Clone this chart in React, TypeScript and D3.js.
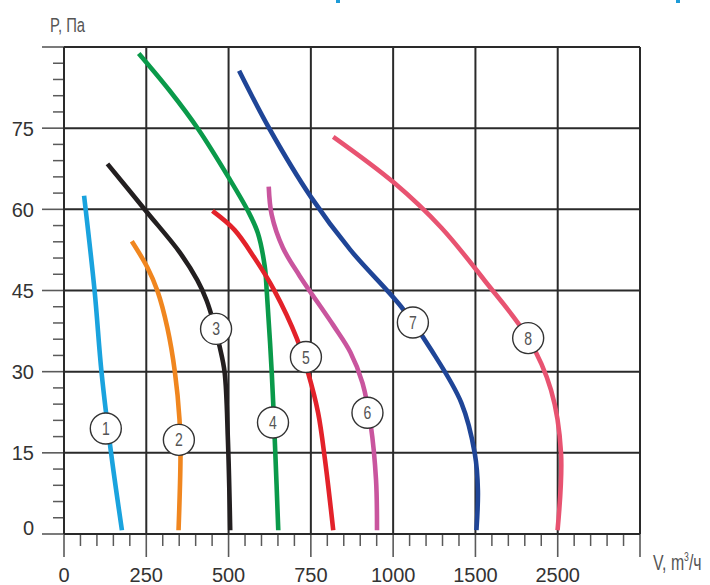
import React from "react";
import * as d3 from "d3";

// Fan performance curves: static pressure P (Pa) against airflow V (m³/h)
const xTickValues = [0, 250, 500, 750, 1000, 1500, 2500, 3500];
const xTickLabels = ["0", "250", "500", "750", "1000", "1500", "2500"];
const yTickValues = [0, 15, 30, 45, 60, 75, 90];
const yTickLabels = ["0", "15", "30", "45", "60", "75"];

const curveNames = ["1", "2", "3", "4", "5", "6", "7", "8"];
const curveColors = ["#1aa3de", "#f0861f", "#231f20", "#0a9a4a", "#e3222a", "#c9559e", "#1f4597", "#e85371"];

const curve1: [number, number][] = [[61, 62.5], [93, 44.9], [114, 29.9], [143, 15], [176, 0.7]];
const curve2: [number, number][] = [[206, 54.1], [253, 49.3], [284, 44.9], [314, 38.1], [337, 29.9], [351, 21.1], [354, 15], [348, 0.7]];
const curve3: [number, number][] = [[132, 68.4], [249, 59.7], [351, 52.1], [405, 46.9], [433, 43.2], [454, 39.2], [473, 34.6], [488, 29.9], [498, 17.4], [505, 0.7]];
const curve4: [number, number][] = [[227, 88.8], [320, 82], [408, 74.8], [500, 65.9], [559, 59.7], [589, 55.6], [610, 49.4], [616, 44.9], [631, 30], [642, 15], [651, 0.7]];
const curve5: [number, number][] = [[451, 59.7], [518, 56.2], [579, 51], [640, 44.9], [707, 36.2], [741, 29.9], [772, 22.4], [793, 13.7], [818, 0.7]];
const curve6: [number, number][] = [[622, 64.2], [631, 59], [665, 52.9], [716, 47.7], [818, 38.6], [870, 33.6], [907, 27.9], [932, 20.1], [948, 10], [951, 0.7]];
const curve7: [number, number][] = [[532, 85.6], [625, 74.8], [750, 62.3], [870, 52.5], [1049, 42], [1232, 34], [1415, 24.2], [1496, 14.9], [1530, 8.1], [1512, 0.7]];
const curve8: [number, number][] = [[818, 73.4], [1006, 64.9], [1293, 56.6], [1609, 46.9], [2141, 36.2], [2419, 26.6], [2540, 15], [2498, 0.7]];
const curves = [curve1, curve2, curve3, curve4, curve5, curve6, curve7, curve8];

// Where each numbered marker sits on its curve (V, P)
const markerV = [127, 349, 462, 635, 735, 922, 1120, 2141];
const markerP = [19.5, 17.4, 37.9, 20.6, 32.7, 22.4, 39.1, 36.2];

const W = 710;
const H = 585;
const left = 64;
const right = 640;
const top = 47;
const bottom = 534;

export default function App() {
  const step = (right - left) / (xTickValues.length - 1);
  const x = d3
    .scaleLinear()
    .domain(xTickValues)
    .range(xTickValues.map((_, i) => left + i * step));
  const y = d3.scaleLinear().domain([0, 90]).range([bottom, top]);

  const line = d3
    .line<[number, number]>()
    .x((d) => x(d[0]))
    .y((d) => y(d[1]))
    .curve(d3.curveCatmullRom.alpha(0.5));

  const xMinor: number[] = [];
  for (let i = 0; i < xTickValues.length - 1; i++) {
    const a = xTickValues[i];
    const b = xTickValues[i + 1];
    for (let k = 1; k < 5; k++) xMinor.push(a + ((b - a) * k) / 5);
  }
  const yMinor = d3.range(0, 91, 3).filter((v) => v % 15 !== 0);

  const grid = "#2a2a2a";
  const tickColor = "#5a5a5a";
  const numFont = "'Liberation Sans', Arial, sans-serif";

  return (
    <svg
      width={W}
      height={H}
      viewBox={`0 0 ${W} ${H}`}
      style={{ position: "absolute", left: 0, top: 0, background: "#fff" }}
    >
      {/* heading descenders at the top edge */}
      <rect x={336} y={0} width={4} height={3} fill="#1e9bd7" />
      <rect x={676} y={0} width={4} height={3} fill="#1e9bd7" />

      {/* minor ticks */}
      {xMinor.map((v, i) => (
        <line key={"xm" + i} x1={x(v)} x2={x(v)} y1={bottom} y2={bottom + 12} stroke={tickColor} strokeWidth={1.5} />
      ))}
      {yMinor.map((v, i) => (
        <line key={"ym" + i} x1={left - 11} x2={left} y1={y(v)} y2={y(v)} stroke={tickColor} strokeWidth={1.5} />
      ))}

      {/* major ticks outside the plot */}
      {xTickValues.map((v, i) => (
        <line key={"xt" + i} x1={x(v)} x2={x(v)} y1={bottom} y2={bottom + 23} stroke={tickColor} strokeWidth={1.6} />
      ))}
      {yTickValues.map((v, i) => (
        <line key={"yt" + i} x1={left - 22} x2={left} y1={y(v)} y2={y(v)} stroke={tickColor} strokeWidth={1.6} />
      ))}

      {/* grid */}
      {xTickValues.map((v, i) => (
        <line key={"xg" + i} x1={x(v)} x2={x(v)} y1={top} y2={bottom} stroke={grid} strokeWidth={2} />
      ))}
      {yTickValues.map((v, i) => (
        <line key={"yg" + i} x1={left} x2={right} y1={y(v)} y2={y(v)} stroke={grid} strokeWidth={2} />
      ))}

      {/* tick labels */}
      {xTickLabels.map((t, i) => (
        <text
          key={"xl" + i}
          x={x(xTickValues[i])}
          y={582}
          textAnchor="middle"
          fontFamily={numFont}
          fontSize={20}
          fill="#333"
        >
          {t}
        </text>
      ))}
      {yTickLabels.map((t, i) => (
        <text
          key={"yl" + i}
          x={34}
          y={Math.min(y(yTickValues[i]) + 7.5, bottom + 1)}
          textAnchor="end"
          fontFamily={numFont}
          fontSize={20}
          fill="#333"
        >
          {t}
        </text>
      ))}

      {/* axis titles */}
      <text transform="translate(50,32) scale(0.76,1)" fontFamily={numFont} fontSize={19.5} fill="#555">
        P, Па
      </text>
      <text transform="translate(653,570) scale(0.72,1)" fontFamily={numFont} fontSize={22} fill="#555">
        V, m<tspan dy={-9} fontSize={12}>3</tspan>
        <tspan dy={9}>/ч</tspan>
      </text>

      {/* curves */}
      {curves.map((c, i) => (
        <path key={"c" + i} d={line(c) || ""} fill="none" stroke={curveColors[i]} strokeWidth={4.6} strokeLinecap="butt" />
      ))}

      {/* numbered markers */}
      {curveNames.map((n, i) => (
        <g key={"m" + i} transform={`translate(${x(markerV[i])},${y(markerP[i])})`}>
          <circle r={15.5} fill="#fff" stroke="#333" strokeWidth={1.4} />
          <text
            transform="scale(0.78,1)"
            y={6.5}
            textAnchor="middle"
            fontFamily={numFont}
            fontSize={18}
            fill="#555"
          >
            {n}
          </text>
        </g>
      ))}
    </svg>
  );
}
